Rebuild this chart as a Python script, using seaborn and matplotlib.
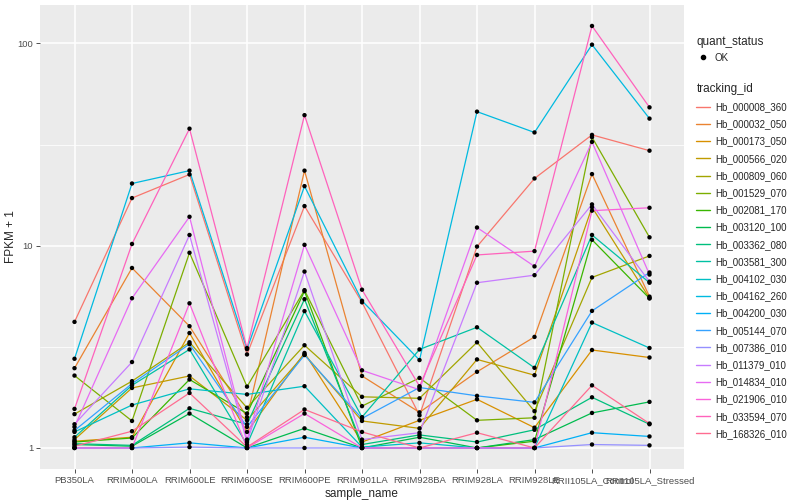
import numpy as np
import pandas as pd
import matplotlib
matplotlib.use("Agg")
import matplotlib.pyplot as plt
import seaborn as sns
from matplotlib.lines import Line2D

# samples on the x axis
samples = ["PB350LA", "RRIM600LA", "RRIM600LE", "RRIM600SE", "RRIM600PE", "RRIM901LA",
           "RRIM928BA", "RRIM928LA", "RRIM928LE", "RRII105LA_Control", "RRII105LA_Stressed"]

# FPKM + 1 per gene
Hb_000008_360 = [4.2, 17.2, 22.5, 2.9, 15.7, 5.25, 1.45, 9.9, 21.5, 35.3, 29.5]
Hb_000032_050 = [2.48, 7.76, 4.0, 1.42, 23.5, 2.27, 1.5, 2.38, 3.54, 22.6, 5.6]
Hb_000173_050 = [1.08, 1.13, 3.7, 1.2, 2.95, 1.07, 1.37, 1.74, 1.26, 3.05, 2.8]
Hb_000566_020 = [1.1, 1.98, 2.27, 1.37, 2.9, 1.36, 1.25, 2.74, 2.29, 15.5, 5.5]
Hb_000809_060 = [1.47, 2.14, 3.33, 1.58, 3.22, 1.79, 1.76, 3.33, 1.52, 6.97, 8.9]
Hb_001529_070 = [2.28, 1.36, 9.23, 2.01, 6.03, 1.61, 2.22, 1.37, 1.41, 34.4, 11.0]
Hb_002081_170 = [1.07, 1.12, 2.18, 1.48, 5.96, 1.0, 1.0, 1.0, 1.08, 10.7, 5.49]
Hb_003120_100 = [1.04, 1.02, 1.48, 1.0, 1.25, 1.0, 1.13, 1.0, 1.10, 1.49, 1.69]
Hb_003362_080 = [1.05, 1.03, 1.57, 1.31, 5.44, 1.04, 1.16, 1.07, 1.23, 1.78, 1.31]
Hb_003581_300 = [1.13, 2.04, 3.07, 1.04, 4.75, 1.42, 3.07, 3.95, 2.49, 11.3, 6.56]
Hb_004102_030 = [1.2, 1.63, 1.96, 1.84, 2.02, 1.01, 1.06, 1.0, 1.0, 4.17, 3.12]
Hb_004162_260 = [2.76, 20.3, 23.5, 3.08, 19.7, 5.34, 2.72, 46.0, 36.3, 98.6, 42.5]
Hb_004200_030 = [1.0, 1.0, 1.06, 1.0, 1.13, 1.0, 1.0, 1.0, 1.0, 1.19, 1.14]
Hb_005144_070 = [1.22, 2.08, 3.26, 1.27, 2.88, 1.40, 1.99, 1.81, 1.68, 4.76, 7.37]
Hb_007386_010 = [1.0, 1.0, 1.01, 1.0, 1.0, 1.0, 1.0, 1.0, 1.0, 1.04, 1.03]
Hb_011379_010 = [1.31, 2.66, 11.3, 1.07, 7.45, 1.10, 1.19, 6.56, 7.15, 16.0, 6.64]
Hb_014834_010 = [1.27, 5.5, 13.9, 1.1, 10.1, 2.42, 1.94, 12.3, 7.9, 32.6, 7.2]
Hb_021906_010 = [1.0, 1.0, 5.19, 1.0, 1.48, 1.0, 1.0, 1.0, 1.0, 14.9, 15.4]
Hb_033594_070 = [1.56, 10.2, 37.9, 3.12, 44.2, 6.06, 2.02, 9.0, 9.4, 122.0, 48.3]
Hb_168326_010 = [1.02, 1.21, 1.87, 1.01, 1.55, 1.20, 1.0, 1.19, 1.0, 2.04, 1.32]

genes = {
    "Hb_000008_360": Hb_000008_360, "Hb_000032_050": Hb_000032_050,
    "Hb_000173_050": Hb_000173_050, "Hb_000566_020": Hb_000566_020,
    "Hb_000809_060": Hb_000809_060, "Hb_001529_070": Hb_001529_070,
    "Hb_002081_170": Hb_002081_170, "Hb_003120_100": Hb_003120_100,
    "Hb_003362_080": Hb_003362_080, "Hb_003581_300": Hb_003581_300,
    "Hb_004102_030": Hb_004102_030, "Hb_004162_260": Hb_004162_260,
    "Hb_004200_030": Hb_004200_030, "Hb_005144_070": Hb_005144_070,
    "Hb_007386_010": Hb_007386_010, "Hb_011379_010": Hb_011379_010,
    "Hb_014834_010": Hb_014834_010, "Hb_021906_010": Hb_021906_010,
    "Hb_033594_070": Hb_033594_070, "Hb_168326_010": Hb_168326_010,
}

# ggplot default hue palette for 20 levels
colors = ["#F8766D", "#EA8331", "#D89000", "#C09B00", "#A3A500", "#7CAE00", "#39B600",
          "#00BB4E", "#00BF7D", "#00C1A3", "#00BFC4", "#00BAE0", "#00B0F6", "#35A2FF",
          "#9590FF", "#C77CFF", "#E76BF3", "#FA62DB", "#FF62BC", "#FF6C91"]

rows = []
for gid, vals in genes.items():
    for s, v in zip(samples, vals):
        rows.append({"tracking_id": gid, "sample_name": s, "fpkm1": v})
df = pd.DataFrame(rows)
df["x"] = df["sample_name"].map({s: i for i, s in enumerate(samples)})

sns.set_theme(style="darkgrid")
plt.rcParams["font.family"] = ["Liberation Sans", "DejaVu Sans"]

fig = plt.figure(figsize=(8, 5), dpi=100)
ax = fig.add_axes([0.05, 0.062, 0.805, 0.928])
ax.set_facecolor("#EBEBEB")

palette = dict(zip(genes.keys(), colors))
sns.lineplot(data=df, x="x", y="fpkm1", hue="tracking_id", palette=palette,
             linewidth=0.9, legend=False, ax=ax, sort=False, estimator=None)
sns.scatterplot(data=df, x="x", y="fpkm1", color="black", s=10, edgecolor="none",
                legend=False, ax=ax, zorder=5)

ax.set_yscale("log")
ax.set_ylim(10 ** -0.104, 10 ** 2.19)
ax.set_xlim(-0.6, len(samples) - 0.4)
ax.set_yticks([1, 10, 100])
ax.set_yticklabels(["1", "10", "100"])
ax.set_yticks([10 ** 0.5, 10 ** 1.5], minor=True)
ax.yaxis.set_minor_formatter(matplotlib.ticker.NullFormatter())
ax.set_xticks(range(len(samples)))
ax.set_xticklabels(samples)

ax.grid(which="major", color="white", linewidth=1.1)
ax.grid(which="minor", axis="y", color="white", linewidth=0.55)
ax.tick_params(axis="both", which="major", labelsize=6.8, labelcolor="#4D4D4D",
               length=3, width=0.6, color="#333333", pad=2, left=True, bottom=True)
ax.tick_params(axis="y", which="minor", length=0)
for sp in ax.spines.values():
    sp.set_visible(False)

ax.set_xlabel("sample_name", fontsize=8.5, labelpad=2)
ax.set_ylabel("FPKM + 1", fontsize=8.5)
ax.yaxis.set_label_coords(-0.035, 0.5)

# legends
h1 = [Line2D([], [], marker="o", color="black", linestyle="none", markersize=3)]
leg1 = fig.legend(h1, ["OK"], title="quant_status", loc="upper left",
                  bbox_to_anchor=(0.868, 0.932), frameon=False, fontsize=7,
                  title_fontsize=8.5, handlelength=1.4, handletextpad=0.5,
                  borderaxespad=0, borderpad=0.2)
leg1._legend_box.align = "left"
h2 = [Line2D([], [], color=c, linewidth=1.0) for c in colors]
leg2 = fig.legend(h2, list(genes.keys()), title="tracking_id", loc="upper left",
                  bbox_to_anchor=(0.868, 0.838), frameon=False, fontsize=7,
                  title_fontsize=8.5, handlelength=1.4, handletextpad=0.5,
                  labelspacing=0.74, borderaxespad=0, borderpad=0.2)
leg2._legend_box.align = "left"

fig.savefig("out.png", dpi=100)
